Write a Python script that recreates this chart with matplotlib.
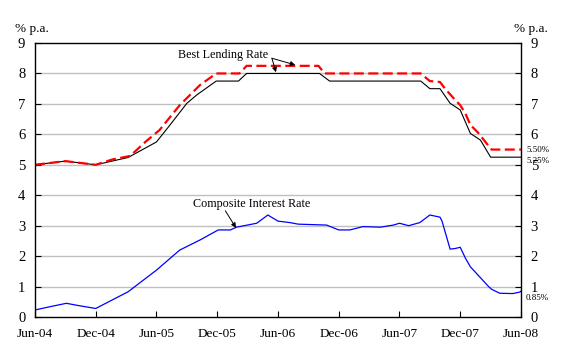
import matplotlib.pyplot as plt

plt.rcParams['font.family'] = ['Liberation Serif', 'DejaVu Serif']

# months since Jun-04
blr_upper_x = [0, 3, 6, 7.7, 9.4, 11, 12.3, 14.3, 16.3, 17.9, 20.2, 20.9, 28.0, 28.6,
               38.1, 39, 40, 40.5, 41.5, 42, 42.5, 43, 43.75, 44.2, 44.8, 45.1, 48]
blr_upper = [5.0, 5.12, 5.0, 5.18, 5.29, 5.78, 6.14, 6.96, 7.62, 8.0, 8.0, 8.25, 8.25, 8.0,
             8.0, 7.75, 7.72, 7.5, 7.13, 6.96, 6.69, 6.31, 6.06, 5.87, 5.62, 5.5, 5.5]

blr_lower_x = [0, 3, 6, 9.2, 12, 13.2, 15, 16, 17.9, 20.1, 20.9, 28.1, 29.1,
               38.1, 39, 40, 41, 42, 43, 44, 45, 48]
blr_lower = [5.0, 5.12, 5.0, 5.24, 5.75, 6.25, 7.02, 7.3, 7.75, 7.75, 8.0, 8.0, 7.75,
             7.75, 7.5, 7.5, 7.02, 6.8, 6.03, 5.81, 5.25, 5.25]

cir_x = [0, 1.5, 3.1, 4.4, 6.0, 9.2, 12, 14.3, 16.3, 18.1, 19.3, 19.9, 21.9, 23.0, 24.0,
         25.2, 26, 28.8, 30.0, 31.1, 32.4, 34.1, 35.4, 36.0, 36.9, 38.0, 39.0, 40.0,
         40.2, 41.0, 41.5, 42, 42.5, 43, 44.8, 45.1, 45.9, 47.2, 47.9, 48]
cir = [0.23, 0.34, 0.45, 0.37, 0.28, 0.83, 1.54, 2.2, 2.53, 2.86, 2.86, 2.95, 3.08, 3.35, 3.15,
       3.1, 3.05, 3.02, 2.86, 2.86, 2.97, 2.95, 3.02, 3.08, 3.0, 3.1, 3.35, 3.28,
       3.15, 2.23, 2.25, 2.29, 1.94, 1.65, 1.0, 0.91, 0.78, 0.77, 0.82, 0.85]

tick_pos = [0, 6, 12, 18, 24, 30, 36, 42, 48]
tick_labels = ['Jun-04', 'Dec-04', 'Jun-05', 'Dec-05', 'Jun-06', 'Dec-06', 'Jun-07', 'Dec-07', 'Jun-08']

fig = plt.figure(figsize=(5.65, 3.54), dpi=100)
ax = fig.add_axes([0.0619, 0.1045, 0.8602, 0.774])

for v in range(1, 9):
    ax.axhline(v, color='#c0c0c0', lw=1.0, zorder=0)

ax.plot(blr_lower_x, blr_lower, color='black', lw=0.8)
ax.plot(blr_upper_x, blr_upper, color='#ff0000', lw=1.6, dashes=(4.5, 2))
ax.plot(cir_x, cir, color='#0000ff', lw=0.9)

ax.set_xlim(0, 48)
ax.set_ylim(0, 9)
ax.set_xticks(tick_pos)
ax.set_xticklabels(tick_labels)
ax.set_yticks(range(0, 10))
ax.tick_params(axis='x', direction='in', length=4, pad=8, labelsize=9.5)
ax.tick_params(axis='y', direction='in', length=4, pad=7, labelsize=10.5,
               right=True, labelright=True)
for s in ax.spines.values():
    s.set_linewidth(1.0)

fig.text(32 / 565, 1 - 29 / 354, '% p.a.', ha='center', va='center', fontsize=9.5)
fig.text(531 / 565, 1 - 29 / 354, '% p.a.', ha='center', va='center', fontsize=9.5)

arrow = dict(arrowstyle='-|>', color='black', lw=0.7, mutation_scale=7,
             shrinkA=0, shrinkB=0)
ax.text(18.6, 8.61, 'Best Lending Rate', ha='center', va='center', fontsize=8.7)
ax.annotate('', xy=(23.8, 8.04), xytext=(23.4, 8.5), arrowprops=arrow)
ax.annotate('', xy=(25.7, 8.28), xytext=(23.4, 8.5), arrowprops=arrow)

ax.text(21.4, 3.71, 'Composite Interest Rate', ha='center', va='center', fontsize=8.7)
ax.annotate('', xy=(19.85, 2.93), xytext=(18.8, 3.49), arrowprops=arrow)

ax.text(48.5, 5.49, '5.50%', ha='left', va='center', fontsize=6.5, clip_on=False)
ax.text(48.5, 5.14, '5.25%', ha='left', va='center', fontsize=6.5, clip_on=False)
ax.text(48.5, 0.63, '0.85%', ha='left', va='center', fontsize=6.5, clip_on=False)

fig.savefig('out.png', dpi=100)
